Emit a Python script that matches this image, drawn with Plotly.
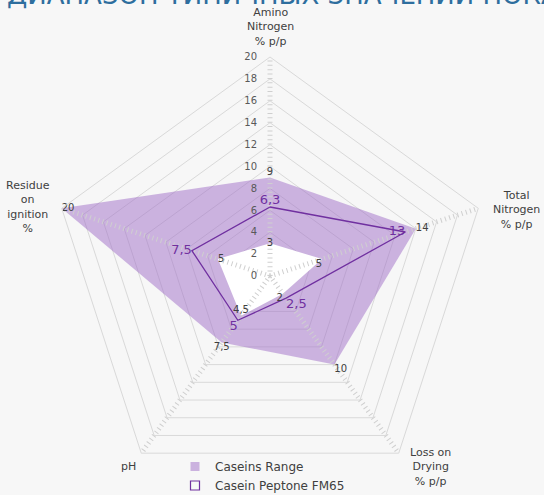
import plotly.graph_objects as go

# ---------------- data ----------------
categories = ["Amino Nitrogen", "Total Nitrogen", "Loss on Drying", "pH", "Residue on ignition"]
axis_labels = ["Amino<br>Nitrogen<br>% p/p", "Total<br>Nitrogen<br>% p/p",
               "Loss on<br>Drying<br>% p/p", "pH", "Residue<br>on<br>ignition<br>%"]
range_max = [9, 14, 10, 7.5, 20]
range_min = [3, 5, 2, 4.5, 5]
peptone = [6.3, 13, 2.5, 5, 7.5]
radial_ticks = [0, 2, 4, 6, 8, 10, 12, 14, 16, 18, 20]
title_text = "ДИАПАЗОН ТИПИЧНЫХ ЗНАЧЕНИЙ ПОКАЗАТЕЛЕЙ"

# ---------------- style ----------------
FONT = "DejaVu Sans"
BG = "#f7f7f7"
PURPLE = "#7030a0"
RANGE_FILL = "rgba(160,110,200,0.5)"
RANGE_SWATCH = "#cbb2df"
GRID = "#d9d9d9"
SPOKE = "#cfcfcf"
TXT = "#404040"

W, H = 544, 495
ML, MR, MT, MB = 49, 53, 57, 0
PW, PH = W - ML - MR, H - MT - MB


def px2paper(x, y):
    return (x - ML) / PW, (H - MB - y) / PH


def fmt(v):
    return f"{v:g}".replace(".", ",")


def closed(lst):
    return list(lst) + [lst[0]]


fig = go.Figure()

# Caseins range: outer polygon (semi-transparent) + opaque inner polygon
fig.add_trace(go.Scatterpolar(
    r=closed(range_max), theta=closed(categories), mode="lines",
    fill="toself", fillcolor=RANGE_FILL, line=dict(width=0, color=RANGE_FILL),
    name="Caseins Range", showlegend=False, hoverinfo="skip"))
fig.add_trace(go.Scatterpolar(
    r=closed(range_min), theta=closed(categories), mode="lines",
    fill="toself", fillcolor="#ffffff", line=dict(width=0, color="#ffffff"),
    showlegend=False, hoverinfo="skip"))

# spokes with tick marks (drawn over the fills)
for c in categories:
    fig.add_trace(go.Scatterpolar(
        r=[radial_ticks[0], radial_ticks[-1]], theta=[c, c], mode="lines",
        line=dict(color=SPOKE, width=5, dash="1px,3.38px"),
        showlegend=False, hoverinfo="skip"))

# Casein Peptone FM65 line
fig.add_trace(go.Scatterpolar(
    r=closed(peptone), theta=closed(categories), mode="lines",
    line=dict(color=PURPLE, width=1.3),
    name="Casein Peptone FM65", showlegend=False))

# data labels
fig.add_trace(go.Scatterpolar(
    r=range_max, theta=categories, mode="text", text=[fmt(v) for v in range_max],
    textposition=["top center", "middle right", "bottom right", "bottom center", "middle right"],
    textfont=dict(family=FONT, size=10, color=TXT), showlegend=False, hoverinfo="skip"))
fig.add_trace(go.Scatterpolar(
    r=range_min, theta=categories, mode="text", text=[fmt(v) for v in range_min],
    textposition=["middle center", "bottom left", "bottom left", "top center", "middle right"],
    textfont=dict(family=FONT, size=10, color=TXT), showlegend=False, hoverinfo="skip"))
fig.add_trace(go.Scatterpolar(
    r=peptone, theta=categories, mode="text", text=[fmt(v) for v in peptone],
    textposition=["top center", "middle left", "bottom right", "bottom left", "middle left"],
    textfont=dict(family=FONT, size=13, color=PURPLE), showlegend=False, hoverinfo="skip"))

# legend-only entries
fig.add_trace(go.Scatterpolar(
    r=[None], theta=[categories[0]], mode="markers", name="Caseins Range",
    marker=dict(symbol="square", size=9, color=RANGE_SWATCH)))
fig.add_trace(go.Scatterpolar(
    r=[None], theta=[categories[0]], mode="markers", name="Casein Peptone FM65",
    marker=dict(symbol="square-open", size=9, color=PURPLE, line=dict(width=1.2, color=PURPLE))))

# category labels
label_px = [(270, 27), (516, 210), (430, 467), (128, 466), (28, 207)]
annotations = []
for txt, (x, y) in zip(axis_labels, label_px):
    ax, ay = px2paper(x, y)
    annotations.append(dict(text=txt, x=ax, y=ay, xref="paper", yref="paper",
                            xanchor="center", yanchor="middle", showarrow=False,
                            font=dict(family=FONT, size=11, color=TXT)))
tx, ty = px2paper(5, 12)
annotations.append(dict(text=title_text, x=tx, y=ty, xref="paper", yref="paper",
                        xanchor="left", yanchor="bottom", showarrow=False,
                        font=dict(family=FONT, size=26, color="#2e6e9e")))

lx, ly = px2paper(175, 452)
fig.update_layout(
    width=W, height=H,
    margin=dict(l=ML, r=MR, t=MT, b=MB, autoexpand=False),
    paper_bgcolor=BG,
    font=dict(family=FONT, color=TXT),
    polar=dict(
        bgcolor=BG,
        gridshape="linear",
        angularaxis=dict(rotation=90, direction="clockwise", showticklabels=False,
                         ticks="", showgrid=False, showline=True,
                         linecolor=GRID, linewidth=1),
        radialaxis=dict(range=[radial_ticks[0], radial_ticks[-1]], tickvals=radial_ticks,
                        ticks="outside", ticklen=9, tickcolor="rgba(0,0,0,0)",
                        showline=False, gridcolor=GRID, gridwidth=1,
                        angle=90, tickangle=90, side="counterclockwise",
                        tickfont=dict(family=FONT, size=10, color="#595959")),
    ),
    legend=dict(x=lx, y=ly, xanchor="left", yanchor="top", bgcolor="rgba(0,0,0,0)",
                font=dict(family=FONT, size=12, color=TXT), tracegroupgap=0),
    annotations=annotations,
)

post = ("document.documentElement.style.margin='0';"
        "document.body.style.margin='0';"
        "document.body.style.overflow='hidden';"
        "document.body.style.background='" + BG + "';")
fig.write_html("out.html", config={"displayModeBar": False}, post_script=post)
